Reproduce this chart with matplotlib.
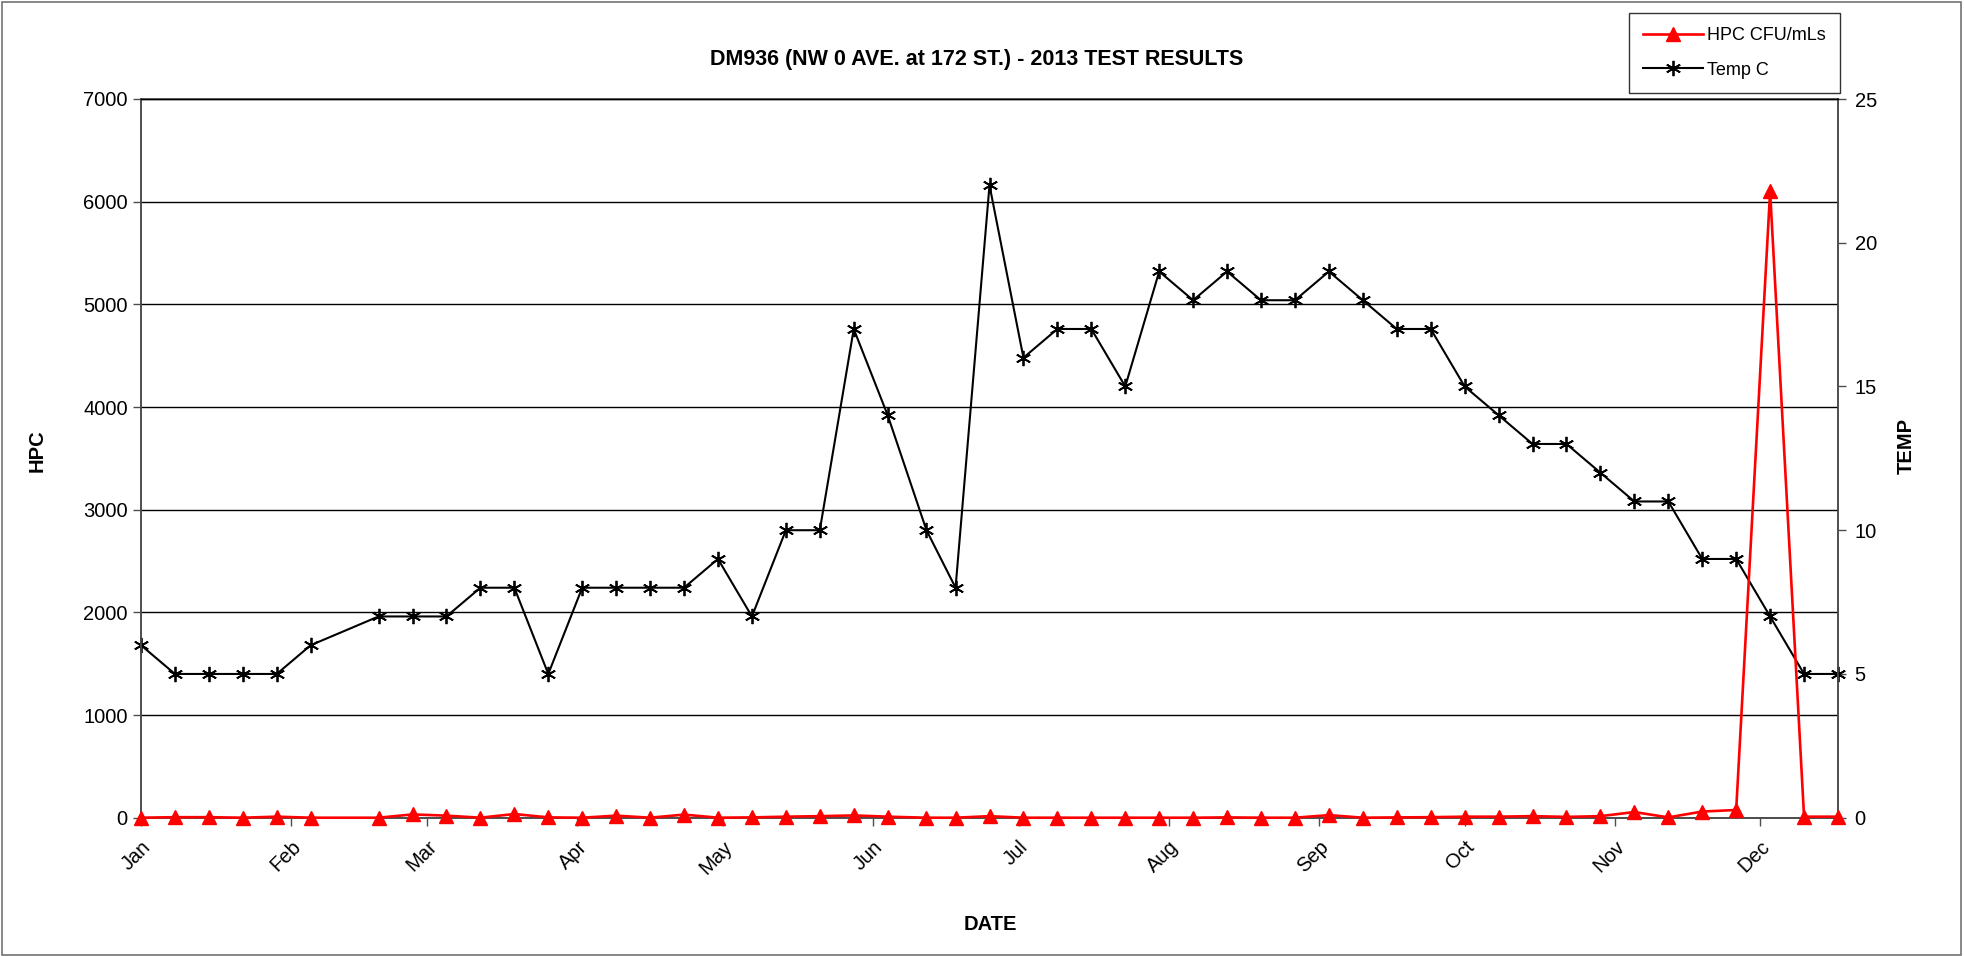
import matplotlib

matplotlib.use("Agg")
import matplotlib.dates as mdates
import matplotlib.pyplot as plt
import numpy as np
from matplotlib.patches import Rectangle

# sample dates, 2013 (weekly, one week skipped in Feb, one shifted in June)
DATES = [
    "2013-01-01", "2013-01-08", "2013-01-15", "2013-01-22", "2013-01-29",
    "2013-02-05", "2013-02-19", "2013-02-26", "2013-03-05", "2013-03-12",
    "2013-03-19", "2013-03-26", "2013-04-02", "2013-04-09", "2013-04-16",
    "2013-04-23", "2013-04-30", "2013-05-07", "2013-05-14", "2013-05-21",
    "2013-05-28", "2013-06-04", "2013-06-12", "2013-06-18", "2013-06-25",
    "2013-07-02", "2013-07-09", "2013-07-16", "2013-07-23", "2013-07-30",
    "2013-08-06", "2013-08-13", "2013-08-20", "2013-08-27", "2013-09-03",
    "2013-09-10", "2013-09-17", "2013-09-24", "2013-10-01", "2013-10-08",
    "2013-10-15", "2013-10-22", "2013-10-29", "2013-11-05", "2013-11-12",
    "2013-11-19", "2013-11-26", "2013-12-03", "2013-12-10", "2013-12-17",
]

HPC = [
    0, 5, 5, 0, 10, 0, 0, 32, 20, 0,
    36, 3, 0, 20, 0, 30, 0, 3, 10, 15,
    22, 10, 0, 0, 15, 0, 0, 0, 0, 0,
    0, 3, 0, 0, 25, 0, 3, 5, 10, 10,
    15, 8, 15, 55, 3, 60, 75, 6100, 10, 10,
]

TEMP = [
    6, 5, 5, 5, 5, 6, 7, 7, 7, 8,
    8, 5, 8, 8, 8, 8, 9, 7, 10, 10,
    17, 14, 10, 8, 22, 16, 17, 17, 15, 19,
    18, 19, 18, 18, 19, 18, 17, 17, 15, 14,
    13, 13, 12, 11, 11, 9, 9, 7, 5, 5,
]

HPC_TICKS = [0, 1000, 2000, 3000, 4000, 5000, 6000, 7000]
TEMP_TICKS = [0, 5, 10, 15, 20, 25]

TITLE = "DM936 (NW 0 AVE. at 172 ST.) - 2013 TEST RESULTS"

plt.rcParams["font.family"] = ["Liberation Sans", "DejaVu Sans"]

W, H = 1965, 956
fig = plt.figure(figsize=(W / 100, H / 100), dpi=100)
fig.patches.append(Rectangle((0.001, 0.001), 0.997, 0.997, transform=fig.transFigure,
                             fill=False, ec="0.45", lw=1.2))

ax = fig.add_axes([141 / W, 1 - 817.7 / H, (1838 - 141) / W, (817.7 - 99) / H])
ax2 = ax.twinx()

dates = np.array(DATES, dtype="datetime64[D]")

ax.set_zorder(ax2.get_zorder() + 1)
ax.patch.set_visible(False)

l1, = ax.plot(dates, HPC, color="#ff0000", lw=1.9, marker="^", ms=10.5,
              mec="#ff0000", mfc="#ff0000", label="HPC CFU/mLs", zorder=4, clip_on=False)
l2, = ax2.plot(dates, TEMP, color="black", lw=1.5, marker=(6, 2, 0), ms=11,
               mew=1.3, label="Temp C", zorder=3, clip_on=False)

ax.set_xlim(dates[0], dates[-1])
ax.set_ylim(0, 7000)
ax2.set_ylim(0, 25)
ax.set_yticks(HPC_TICKS)
ax2.set_yticks(TEMP_TICKS)

ax.grid(axis="y", color="black", lw=1.0)
ax2.grid(False)
ax.set_axisbelow(True)

ax.xaxis.set_major_locator(mdates.MonthLocator())
ax.xaxis.set_major_formatter(mdates.DateFormatter("%b"))
for lab in ax.get_xticklabels():
    lab.set_rotation(45)
    lab.set_ha("right")
    lab.set_rotation_mode("anchor")

for a in (ax, ax2):
    for s in a.spines.values():
        s.set_color("0.3")
        s.set_linewidth(1.2)
    a.tick_params(labelsize=14.5, length=6, width=1, color="0.3")
ax.spines["top"].set_color("black")
ax.spines["top"].set_linewidth(1.0)
ax.tick_params(axis="x", labelsize=14.5, pad=8)
ax2.tick_params(axis="y", pad=6)

# axis titles placed where the reference has them
fig.text(37.6 / W, 1 - 451 / H, "HPC", fontsize=14.5, fontweight="bold",
         rotation=90, ha="center", va="center")
fig.text(1906 / W, 1 - 446 / H, "TEMP", fontsize=14.5, fontweight="bold",
         rotation=90, ha="center", va="center")
fig.text(990 / W, 1 - 925 / H, "DATE", fontsize=14.5, fontweight="bold",
         ha="center", va="center")

fig.text(977 / W, 1 - 59 / H, TITLE, fontsize=15.5, fontweight="bold",
         ha="center", va="center")

leg = fig.legend(handles=[l1, l2], loc="upper left",
                 bbox_to_anchor=(1629 / W, 1 - 13 / H), fontsize=13,
                 frameon=True, fancybox=False, edgecolor="black",
                 handlelength=3.3, handletextpad=0.2, labelspacing=0.95,
                 borderpad=0.8, borderaxespad=0)
leg.get_frame().set_linewidth(1.0)

fig.savefig("out.png", dpi=100)
